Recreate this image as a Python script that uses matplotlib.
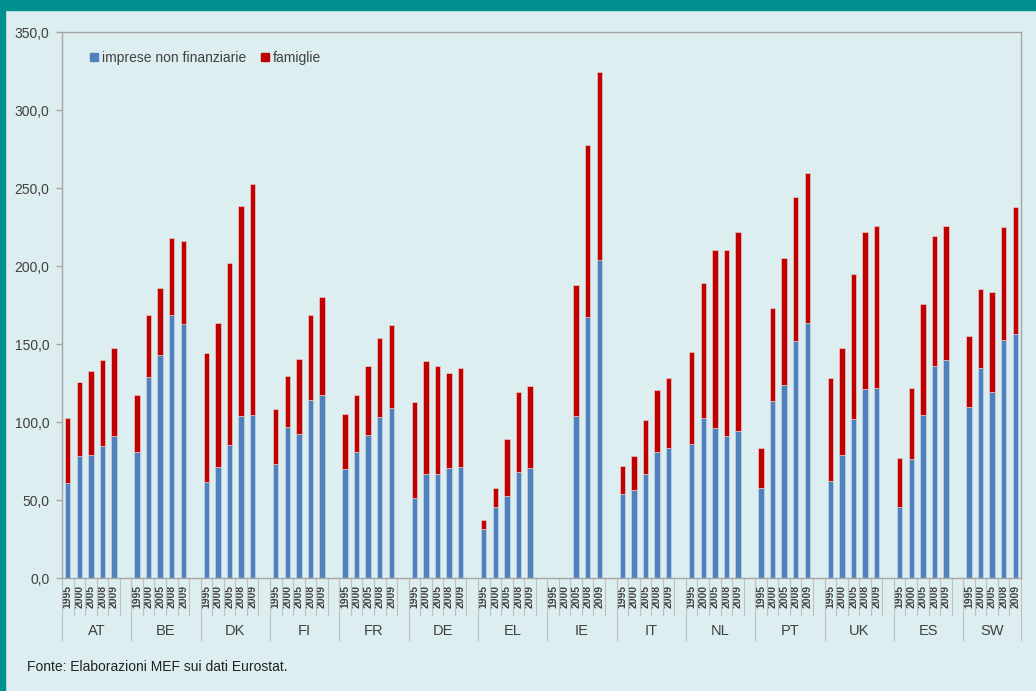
import numpy as np
import matplotlib
matplotlib.use('Agg')
import matplotlib.pyplot as plt
from matplotlib.lines import Line2D
from matplotlib.patches import Rectangle
from matplotlib.ticker import FuncFormatter
import matplotlib.transforms as mtransforms

plt.rcParams['font.family'] = ['Liberation Sans', 'DejaVu Sans']

# Data (debito in % del PIL)
countries = ['AT', 'BE', 'DK', 'FI', 'FR', 'DE', 'EL', 'IE', 'IT', 'NL', 'PT', 'UK', 'ES', 'SW']
years = ['1995', '2000', '2005', '2008', '2009']

imprese = [
    [60.7, 78.4, 78.8, 84.8, 91.0],      # AT
    [80.8, 128.8, 142.7, 168.4, 162.6],  # BE
    [61.8, 71.0, 85.0, 103.8, 104.7],    # DK
    [72.9, 96.6, 92.5, 114.1, 117.5],    # FI
    [69.9, 80.8, 91.7, 103.2, 108.8],    # FR
    [51.3, 66.4, 66.4, 70.3, 71.2],      # DE
    [31.6, 45.3, 52.8, 67.9, 70.7],      # EL
    [np.nan, np.nan, 103.6, 167.3, 204.0],  # IE
    [53.8, 56.2, 66.9, 81.0, 83.5],      # IT
    [86.1, 102.6, 96.2, 91.2, 94.0],     # NL
    [57.5, 113.5, 123.5, 151.9, 163.2],  # PT
    [62.0, 78.6, 102.1, 120.9, 121.6],   # UK
    [45.7, 76.1, 104.7, 136.1, 139.7],   # ES
    [109.8, 134.8, 119.0, 152.6, 156.2], # SW
]
famiglie = [
    [42.1, 47.4, 54.1, 54.7, 56.4],      # AT
    [36.7, 39.6, 43.3, 49.6, 53.4],      # BE
    [82.2, 92.7, 116.9, 134.7, 147.9],   # DK
    [35.4, 32.7, 48.1, 54.7, 62.6],      # FI
    [35.4, 36.3, 44.0, 50.6, 53.6],      # FR
    [61.5, 72.5, 69.3, 61.1, 63.2],      # DE
    [5.8, 12.6, 36.1, 51.3, 52.6],       # EL
    [np.nan, np.nan, 84.2, 110.3, 120.4],   # IE
    [18.2, 22.2, 34.6, 39.3, 44.5],      # IT
    [59.0, 86.7, 113.8, 118.8, 127.8],   # NL
    [26.0, 59.8, 81.8, 92.3, 96.4],      # PT
    [66.0, 69.0, 93.0, 100.9, 104.0],    # UK
    [31.4, 45.9, 71.1, 83.3, 85.9],      # ES
    [45.5, 50.5, 64.3, 72.6, 81.8],      # SW
]

blue = '#4F81BD'
red = '#C00000'
bg = '#DDEEF0'
teal = '#008F8F'
grey = '#A6A6A6'
txt = '#404040'

fig = plt.figure(figsize=(10.36, 6.91), dpi=100, facecolor=bg)
fig.patches.append(Rectangle((0, 1 - 10 / 691), 1, 10 / 691, transform=fig.transFigure,
                             color=teal, zorder=0))
fig.patches.append(Rectangle((0, 0), 5 / 1036, 1, transform=fig.transFigure,
                             color=teal, zorder=0))

ax = fig.add_axes([62 / 1036, 1 - 578 / 691, 959 / 1036, 546 / 691])
ax.set_facecolor(bg)

# 5 bars per country + one empty slot between countries
n_slots = len(countries) * 6 - 1
xs, labels = [], []
for g, c in enumerate(countries):
    for j, y in enumerate(years):
        x = g * 6 + j
        xs.append(x)
        labels.append(y)
        b = imprese[g][j]
        f = famiglie[g][j]
        if np.isnan(b):
            continue
        ax.bar(x, b, width=0.47, color=blue, edgecolor='#C8D4E6', linewidth=0.5, zorder=2)
        ax.bar(x, f, bottom=b, width=0.47, color=red, edgecolor='#E8C8C8', linewidth=0.5, zorder=2)

ax.set_xlim(-0.5, n_slots - 0.5)
ax.set_ylim(0, 350)
ax.set_yticks(np.arange(0, 351, 50))
ax.yaxis.set_major_formatter(FuncFormatter(lambda v, p: f'{v:.1f}'.replace('.', ',')))
ax.tick_params(axis='y', colors=grey, labelcolor=txt, labelsize=10, length=4, width=1, pad=5)

ax.set_xticks(xs)
ax.set_xticklabels(labels, rotation=90, fontsize=7.5, color=txt, fontweight='bold')
ax.tick_params(axis='x', length=0, pad=5)

for s in ax.spines.values():
    s.set_color(grey)
    s.set_linewidth(1)

# category separators below the axis
trans = mtransforms.blended_transform_factory(ax.transData, ax.transAxes)
for k in range(n_slots + 1):
    x = k - 0.5
    long_line = (k % 6 == 0) or k == n_slots
    y_end = -62 / 546 if long_line else -37 / 546
    ax.add_line(Line2D([x, x], [0, y_end], transform=trans, color='#BFBFBF',
                       linewidth=0.8, clip_on=False))

for g, c in enumerate(countries):
    end = min(g * 6 + 6, n_slots)
    cx = (g * 6 + end) / 2 - 0.5
    ax.text(cx, -53 / 546, c, transform=trans, ha='center', va='center',
            fontsize=10.5, color=txt)

handles = [Line2D([], [], marker='s', linestyle='none', markersize=5.5, color=blue,
                  label='imprese non finanziarie'),
           Line2D([], [], marker='s', linestyle='none', markersize=5.5, color=red,
                  label='famiglie')]
ax.legend(handles=handles, loc='center left', bbox_to_anchor=(0.029, 0.952), ncol=2,
          frameon=False, fontsize=10, handlelength=0.6, handletextpad=0.3,
          columnspacing=1.0, borderpad=0, borderaxespad=0, labelcolor=txt)

fig.text(27 / 1036, 1 - 667 / 691, 'Fonte: Elaborazioni MEF sui dati Eurostat.',
         ha='left', va='center', fontsize=10, color='#222222')

fig.savefig('out.png', dpi=100, facecolor=bg)
